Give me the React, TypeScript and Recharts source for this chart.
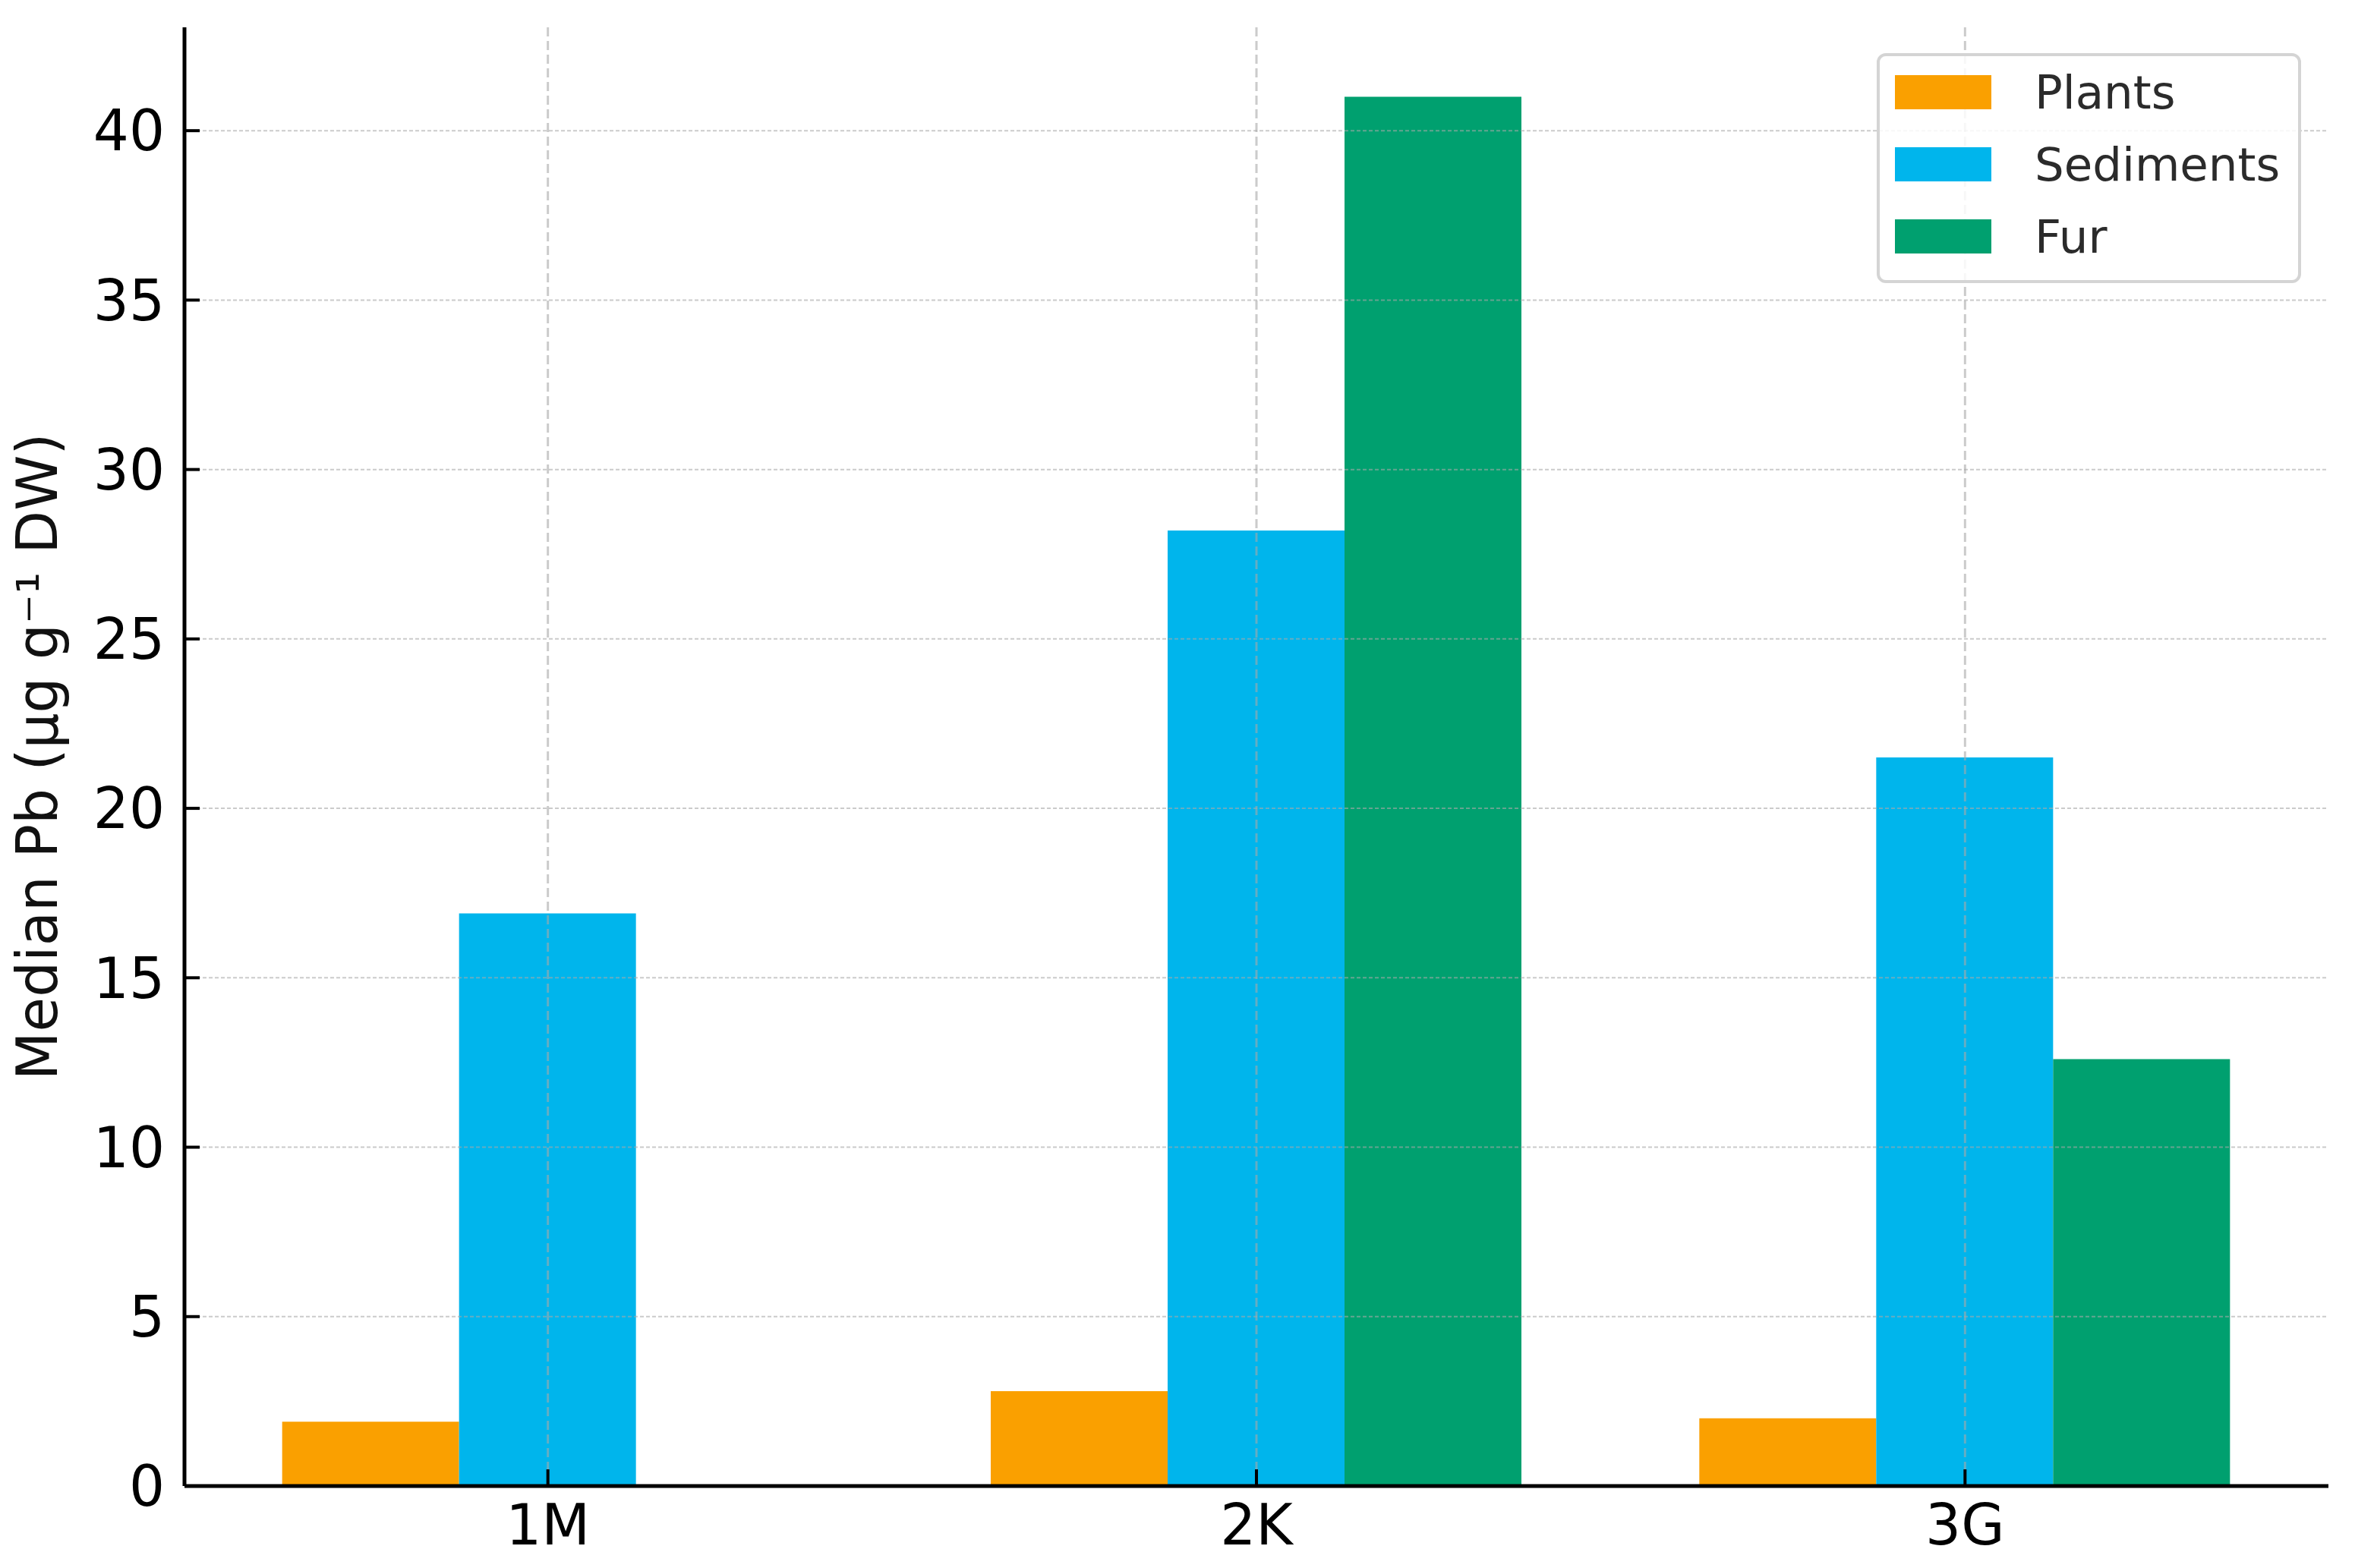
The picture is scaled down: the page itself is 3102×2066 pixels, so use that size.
import React from "react"
import { Bar, BarChart, CartesianGrid, Legend, XAxis, YAxis } from "recharts"

// sampling sites on the x axis
const sites = ["1M", "2K", "3G"]

// median Pb, µg g⁻¹ DW
const plants = [1.9, 2.8, 2.0]
const sediments = [16.9, 28.2, 21.5]
const fur = [0, 41.0, 12.6]

const yTicks = [0, 5, 10, 15, 20, 25, 30, 35, 40]
const Y_MAX = 43.05
const X_PAD = 12

const SERIES = [
    { key: "Plants", values: plants, color: "#FAA000" },
    { key: "Sediments", values: sediments, color: "#00B5EC" },
    { key: "Fur", values: fur, color: "#00A06F" },
]

const data = sites.map((site, i) => {
    const row: Record<string, string | number> = { site }
    SERIES.forEach(s => { row[s.key] = s.values[i] })
    return row
})

const FONT = "'DejaVu Sans', Verdana, sans-serif"

function LegendBox({ payload }: any) {
    // keep the plotting order, recharts sorts the payload by name
    const items = SERIES.map(s => (payload || []).find((p: any) => p.value === s.key) || { value: s.key, color: s.color })
    return (
        <div
            style={{
                boxSizing: "border-box",
                width: 559,
                height: 303,
                border: "4px solid #d4d4d4",
                borderRadius: 12,
                background: "rgba(255,255,255,0.85)",
                fontFamily: FONT,
            }}
        >
            {items.map((p: any) => (
                <div key={p.value} style={{ display: "flex", alignItems: "center", height: 95 }}>
                    <div style={{ width: 127, height: 45, marginLeft: 20, background: p.color }} />
                    <span style={{ marginLeft: 57, fontSize: 61, color: "#2b2b2b", lineHeight: 1 }}>{p.value}</span>
                </div>
            ))}
        </div>
    )
}

// grid lines only at the ticks, none along the plot border
const hLines = ({ offset }: any) =>
    yTicks.filter(t => t > 0).map(t => offset.top + offset.height * (1 - t / Y_MAX))

const vLines = ({ offset }: any) => {
    const band = (offset.width - 2 * X_PAD) / sites.length
    return sites.map((_, i) => offset.left + X_PAD + band * (i + 0.5))
}

export default function App() {
    return (
        <div style={{ position: "absolute", left: 0, top: 0, background: "#fff" }}>
            <BarChart
                width={3102}
                height={2066}
                data={data}
                margin={{ top: 36, right: 35, bottom: 0, left: 0 }}
                barCategoryGap="12.5%"
                barGap={0}
            >
                <XAxis
                    dataKey="site"
                    height={108}
                    padding={{ left: X_PAD, right: X_PAD }}
                    axisLine={{ stroke: "#000", strokeWidth: 5 }}
                    tickLine={{ stroke: "#000", strokeWidth: 4 }}
                    tickSize={-22}
                    tickMargin={46}
                    tick={{ fontSize: 74, fill: "#000", fontFamily: FONT }}
                />
                <YAxis
                    width={243}
                    domain={[0, Y_MAX]}
                    ticks={yTicks}
                    allowDataOverflow
                    axisLine={{ stroke: "#000", strokeWidth: 5 }}
                    tickLine={{ stroke: "#000", strokeWidth: 4 }}
                    tickSize={-20}
                    tickMargin={46}
                    tick={{ fontSize: 74, fill: "#000", fontFamily: FONT }}
                    label={{
                        value: "Median Pb (µg g⁻¹ DW)",
                        angle: -90,
                        position: "center",
                        dx: -73,
                        style: { fontSize: 74, fill: "#111", fontFamily: FONT, textAnchor: "middle" },
                    }}
                />
                {SERIES.map(s => (
                    <Bar key={s.key} dataKey={s.key} fill={s.color} isAnimationActive={false} />
                ))}
                {/* grid sits over the bars but under the axes */}
                <CartesianGrid
                    zIndex={400}
                    vertical={false}
                    horizontalCoordinatesGenerator={hLines}
                    stroke="#a8a8a8"
                    strokeOpacity={0.6}
                    strokeWidth={2}
                    strokeDasharray="5 3"
                />
                <CartesianGrid
                    zIndex={400}
                    horizontal={false}
                    verticalCoordinatesGenerator={vLines}
                    stroke="#a8a8a8"
                    strokeOpacity={0.6}
                    strokeWidth={3}
                    strokeDasharray="12 6"
                />
                <Legend
                    layout="horizontal"
                    verticalAlign="middle"
                    align="center"
                    content={<LegendBox />}
                    wrapperStyle={{ position: "absolute", left: 2472, top: 70, width: 559, height: 303 }}
                />
            </BarChart>
        </div>
    )
}
